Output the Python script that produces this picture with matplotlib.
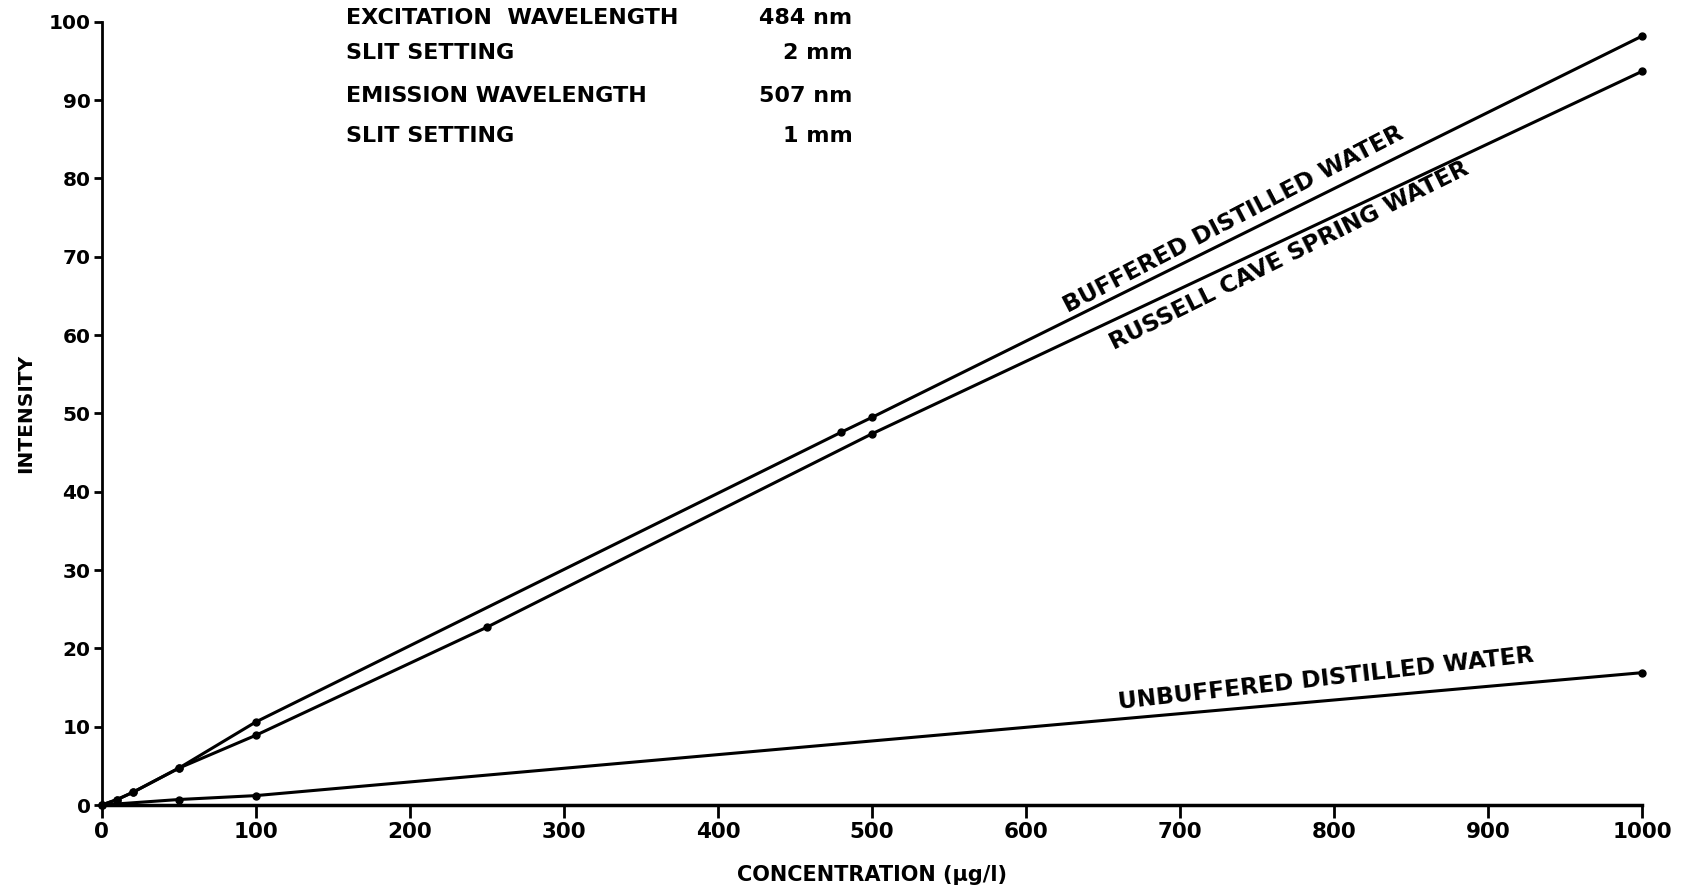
import matplotlib
matplotlib.use('Agg')
import matplotlib.pyplot as plt
import numpy as np

# values
conc_buffered = [0, 10, 20, 50, 100, 480, 500, 1000]
int_buffered = [0, 0.7, 1.6, 4.7, 10.6, 47.6, 49.5, 98.2]

conc_russell = [0, 10, 20, 50, 100, 250, 500, 1000]
int_russell = [0, 0.7, 1.6, 4.7, 8.9, 22.7, 47.4, 93.7]

conc_unbuffered = [0, 50, 100, 1000]
int_unbuffered = [0, 0.7, 1.2, 16.9]

x_ticks = np.arange(0, 1001, 100)
y_ticks = np.arange(0, 101, 10)

info_left = ['EXCITATION  WAVELENGTH', 'SLIT SETTING', 'EMISSION WAVELENGTH', 'SLIT SETTING']
info_right = ['484 nm', '2 mm', '507 nm', '1 mm']


def main():
    font = {'family': 'DejaVu Sans', 'weight': 'bold'}

    fig = plt.figure(figsize=(16.95, 8.9), dpi=100)
    ax = fig.add_axes([0.060, 0.0955, 0.909, 0.880])

    for xs, ys in [(conc_buffered, int_buffered), (conc_russell, int_russell),
                   (conc_unbuffered, int_unbuffered)]:
        ax.plot(xs, ys, color='black', linewidth=2.2, marker='o', markersize=5,
                clip_on=False)

    ax.set_xlim(0, 1000)
    ax.set_ylim(0, 100)
    ax.spines['top'].set_visible(False)
    ax.spines['right'].set_visible(False)
    ax.spines['left'].set_linewidth(2)
    ax.spines['bottom'].set_linewidth(2.5)

    ax.set_xticks(x_ticks)
    ax.set_xticklabels([str(v) for v in x_ticks], fontsize=15.5, **font)
    ax.set_yticks(y_ticks)
    ax.set_yticklabels([str(v) for v in y_ticks], fontsize=14.5, **font)
    ax.tick_params(axis='x', direction='out', length=9, width=2, pad=3)
    ax.tick_params(axis='y', direction='out', length=6, width=2, pad=2)

    ax.set_xlabel('CONCENTRATION (\u00b5g/l)', fontsize=15, labelpad=17, **font)
    ax.set_ylabel('INTENSITY', fontsize=14.5, labelpad=10, **font)

    # curve labels
    ax.text(627, 62.8, 'BUFFERED DISTILLED WATER', rotation=27.5, fontsize=16.8,
            ha='left', va='baseline', rotation_mode='anchor', **font)
    ax.text(652, 60.1, 'RUSSELL CAVE SPRING WATER', rotation=26.4, fontsize=16.8,
            ha='left', va='top', rotation_mode='anchor', **font)
    ax.text(660, 12.2, 'UNBUFFERED DISTILLED WATER', rotation=6.5, fontsize=16.8,
            ha='left', va='baseline', rotation_mode='anchor', **font)

    # instrument settings block
    ys_info = [0.980, 0.940, 0.892, 0.847]
    for lab, val, yy in zip(info_left, info_right, ys_info):
        fig.text(0.204, yy, lab, fontsize=16, ha='left', va='center', **font)
        fig.text(0.503, yy, val, fontsize=16, ha='right', va='center', **font)

    plt.savefig('out.png', dpi=100)


if __name__ == '__main__':
    main()
